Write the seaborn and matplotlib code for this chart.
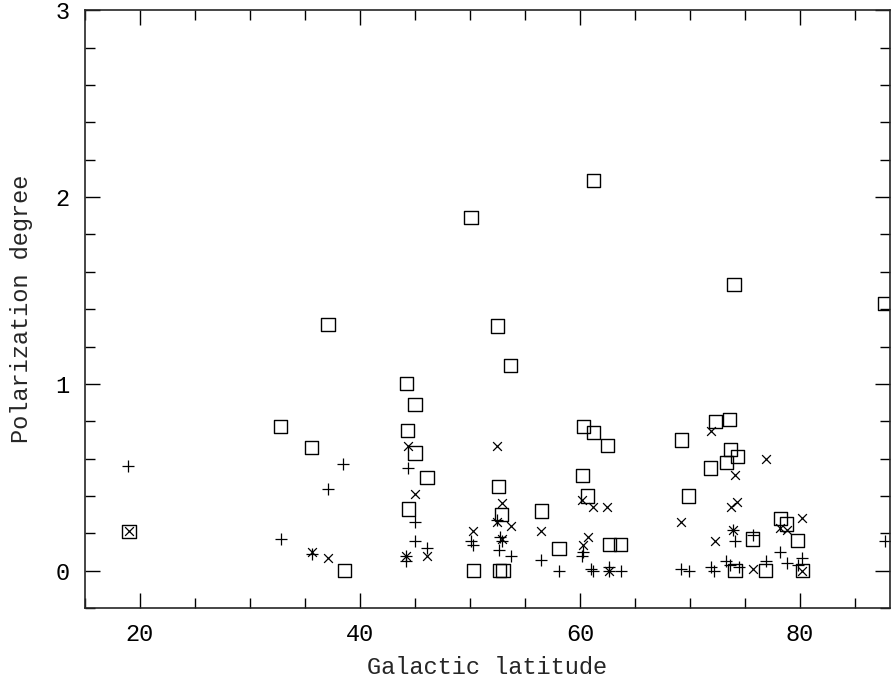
import seaborn as sns
import matplotlib.pyplot as plt
import pandas as pd
from matplotlib.ticker import MultipleLocator

sns.set_style("ticks")
plt.rcParams['font.family'] = ['Liberation Mono', 'DejaVu Sans Mono']

# squares
lat_sq = [19.0, 32.8, 35.6, 37.1, 38.6, 44.2, 44.3, 45.0, 45.0, 44.4, 46.1, 50.1, 50.3,
          52.5, 53.7, 52.6, 52.9, 52.7, 53.0, 56.5, 58.1, 60.3, 60.2, 60.7, 61.2, 61.2,
          62.5, 62.7, 63.7, 69.2, 69.9, 71.9, 72.3, 73.6, 73.3, 73.7, 74.3, 74.0, 74.1,
          75.7, 76.9, 78.2, 78.8, 79.8, 80.2, 87.7]
pol_sq = [0.21, 0.77, 0.66, 1.32, 0.0, 1.00, 0.75, 0.89, 0.63, 0.33, 0.50, 1.89, 0.0,
          1.31, 1.10, 0.45, 0.30, 0.0, 0.0, 0.32, 0.12, 0.77, 0.51, 0.40, 2.09, 0.74,
          0.67, 0.14, 0.14, 0.70, 0.40, 0.55, 0.80, 0.81, 0.58, 0.65, 0.61, 1.53, 0.0,
          0.17, 0.0, 0.28, 0.25, 0.16, 0.0, 1.43]

# plus
lat_plus = [18.9, 32.8, 35.6, 37.1, 38.5, 44.2, 44.2, 44.4, 45.0, 45.0, 46.1, 50.1, 50.3,
            52.5, 52.9, 52.7, 52.6, 53.7, 56.5, 58.1, 60.3, 60.2, 61.0, 61.2, 62.6, 62.6,
            63.7, 69.2, 69.9, 71.9, 72.2, 73.9, 74.1, 73.3, 73.6, 74.5, 75.7, 76.9, 78.2,
            78.8, 79.8, 80.2, 87.7]
pol_plus = [0.56, 0.17, 0.09, 0.44, 0.57, 0.05, 0.08, 0.55, 0.26, 0.16, 0.12, 0.16, 0.14,
            0.27, 0.16, 0.18, 0.11, 0.08, 0.06, 0.0, 0.10, 0.08, 0.01, 0.0, 0.02, 0.0,
            0.0, 0.01, 0.0, 0.02, 0.0, 0.22, 0.16, 0.05, 0.03, 0.02, 0.19, 0.05, 0.10,
            0.04, 0.03, 0.07, 0.16]

# cross
lat_x = [19.0, 35.6, 37.1, 44.4, 45.0, 44.2, 46.1, 50.3, 52.5, 52.9, 52.5, 53.7, 52.9,
         56.5, 60.2, 61.2, 62.5, 60.7, 60.3, 62.6, 69.2, 71.9, 72.3, 74.1, 74.3, 73.7,
         73.9, 75.7, 76.9, 78.2, 78.8, 80.2, 80.2]
pol_x = [0.21, 0.10, 0.07, 0.67, 0.41, 0.08, 0.08, 0.21, 0.67, 0.36, 0.26, 0.24, 0.17,
         0.21, 0.38, 0.34, 0.34, 0.18, 0.14, 0.0, 0.26, 0.75, 0.16, 0.51, 0.37, 0.34,
         0.22, 0.01, 0.60, 0.23, 0.22, 0.28, 0.0]

df_sq = pd.DataFrame({'lat': lat_sq, 'pol': pol_sq})
df_plus = pd.DataFrame({'lat': lat_plus, 'pol': pol_plus})
df_x = pd.DataFrame({'lat': lat_x, 'pol': pol_x})

fig = plt.figure(figsize=(8.91, 6.84), dpi=100)
ax = fig.add_axes([0.0954, 0.111, 0.9036, 0.874])

sns.scatterplot(x='lat', y='pol', data=df_sq, marker='s', s=90, facecolor='none',
                edgecolor='black', linewidth=1.0, ax=ax)
sns.scatterplot(x='lat', y='pol', data=df_plus, marker='+', s=75, color='black',
                linewidth=0.9, ax=ax)
sns.scatterplot(x='lat', y='pol', data=df_x, marker='x', s=40, color='black',
                linewidth=0.9, ax=ax)

ax.set_xlim(15, 88.2)
ax.set_ylim(-0.2, 3)
ax.xaxis.set_major_locator(MultipleLocator(20))
ax.xaxis.set_minor_locator(MultipleLocator(5))
ax.yaxis.set_major_locator(MultipleLocator(1))
ax.yaxis.set_minor_locator(MultipleLocator(0.2))
ax.tick_params(which='both', direction='in', top=True, right=True, width=1, colors='black',
               labelsize=17)
ax.tick_params(which='major', length=11, pad=11)
ax.tick_params(which='minor', length=7)
for sp in ax.spines.values():
    sp.set_linewidth(1.2)

ax.set_xlabel('Galactic latitude', fontsize=17, labelpad=7)
ax.set_ylabel('Polarization degree', fontsize=17, labelpad=16)

fig.savefig('out.png', dpi=100)
